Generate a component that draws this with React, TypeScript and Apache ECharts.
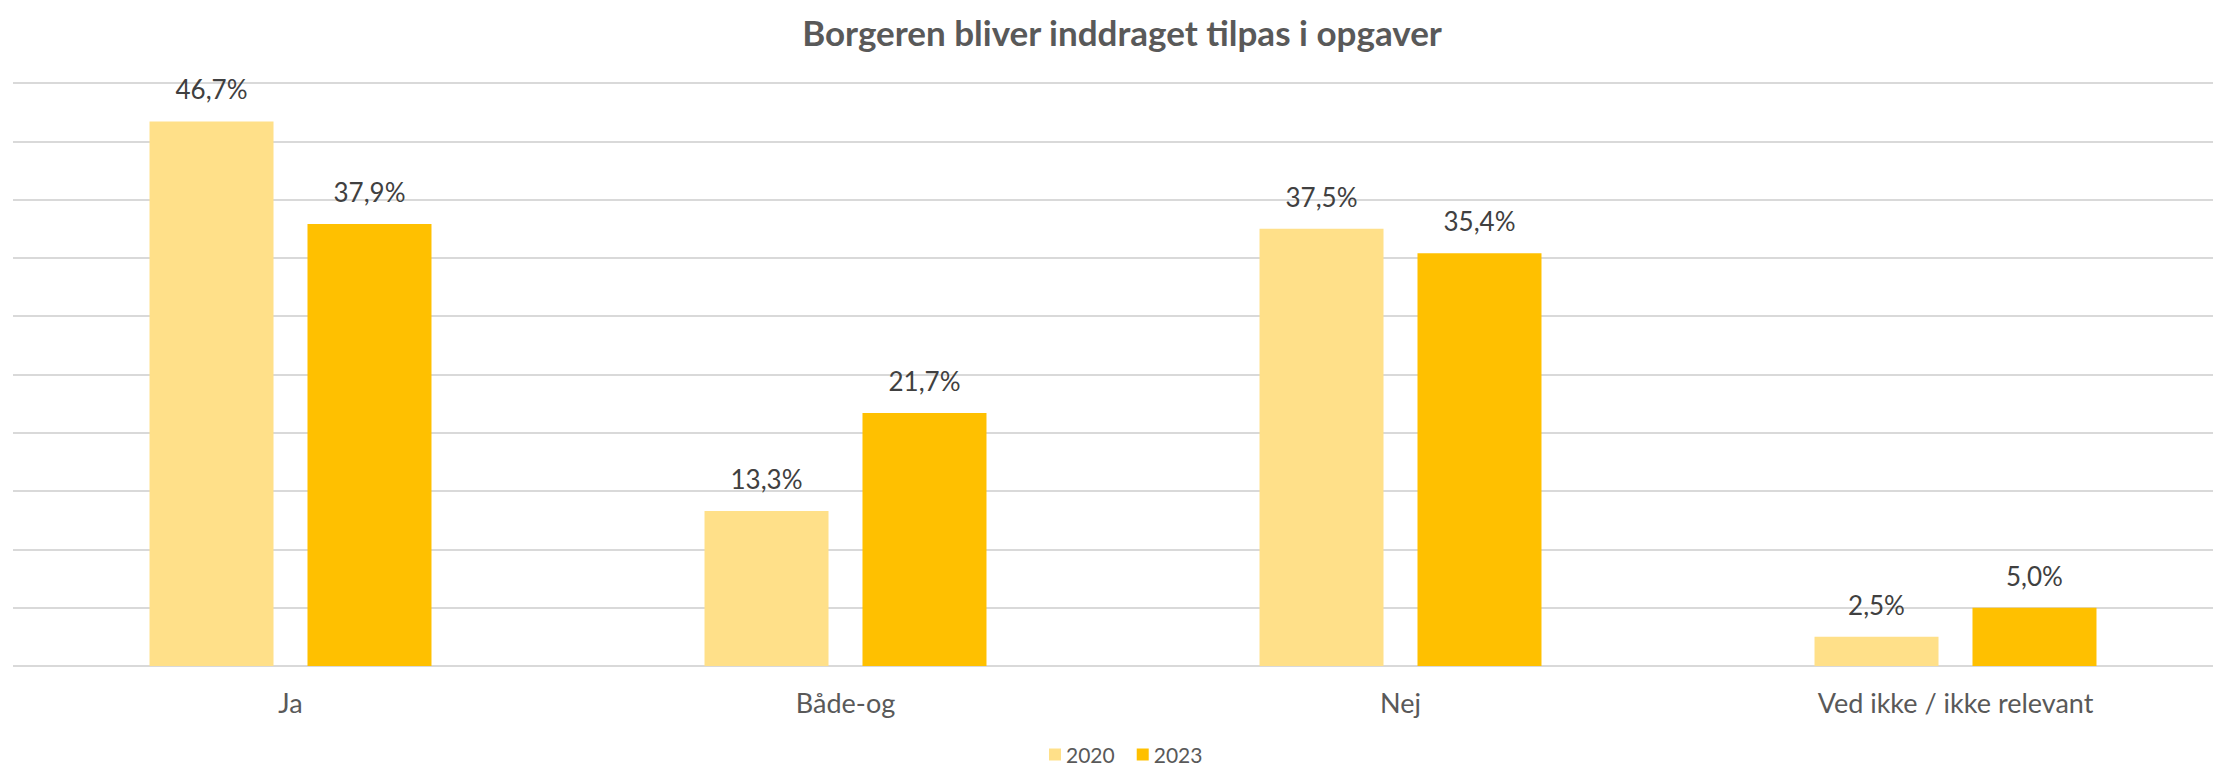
import React, { useEffect, useRef } from "react";
import * as echarts from "echarts";

const categories = ["Ja", "Både-og", "Nej", "Ved ikke / ikke relevant"];
const values2020 = [46.7, 13.3, 37.5, 2.5];
const values2023 = [37.9, 21.7, 35.4, 5.0];
const seriesNames = ["2020", "2023"];
const titleText = "Borgeren bliver inddraget tilpas i opgaver";

const FONT = "Lato, 'Open Sans', sans-serif";

export default function App() {
  const ref = useRef<HTMLDivElement>(null);
  useEffect(() => {
    if (!ref.current) return;
    const chart = echarts.init(ref.current, undefined, { renderer: "svg" });
    const fmt = (p: any) => Number(p.value).toFixed(1).replace(".", ",") + "%";
    const label = {
      show: true,
      position: "top",
      distance: 19,
      formatter: fmt,
      color: "#404040",
      fontSize: 26,
      fontFamily: FONT,
    };
    chart.setOption({
      animation: false,
      backgroundColor: "#ffffff",
      graphic: [
        {
          type: "text",
          x: 1122,
          y: 32,
          style: {
            text: titleText,
            textAlign: "center",
            textVerticalAlign: "middle",
            fill: "#595959",
            fontSize: 35,
            fontWeight: "bold",
            fontFamily: FONT,
          },
        },
      ],
      legend: {
        data: seriesNames,
        left: 1049,
        top: 744,
        padding: 0,
        itemWidth: 12,
        itemHeight: 12,
        itemGap: 22,
        icon: "rect",
        textStyle: { color: "#595959", fontSize: 21, lineHeight: 20, fontFamily: FONT },
      },
      grid: { left: 13, right: 0, top: 83, bottom: 101, containLabel: false },
      xAxis: {
        type: "category",
        data: categories,
        axisLine: { show: false },
        axisTick: { show: false },
        axisLabel: { color: "#595959", fontSize: 27, margin: 23, fontFamily: FONT },
      },
      yAxis: {
        type: "value",
        min: 0,
        max: 50,
        interval: 5,
        axisLabel: { show: false },
        axisLine: { show: false },
        axisTick: { show: false },
        splitLine: { lineStyle: { color: "#d9d9d9", width: 2 } },
      },
      series: [
        {
          name: seriesNames[0],
          type: "bar",
          data: values2020,
          barWidth: 124,
          barGap: "27.4%",
          itemStyle: { color: "#FFE089" },
          label,
        },
        {
          name: seriesNames[1],
          type: "bar",
          data: values2023,
          barWidth: 124,
          barGap: "27.4%",
          itemStyle: { color: "#FFC000" },
          label,
        },
      ],
    });
    return () => chart.dispose();
  }, []);
  return (
    <div
      ref={ref}
      style={{ position: "fixed", left: 0, top: 0, width: 2233, height: 767, background: "#fff" }}
    />
  );
}
